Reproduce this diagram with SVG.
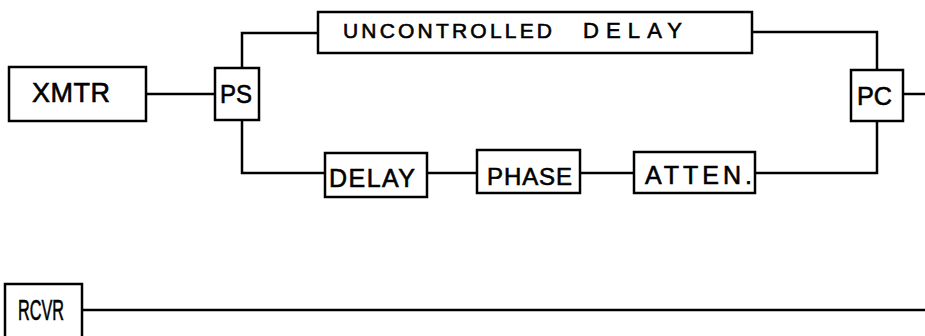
<svg xmlns="http://www.w3.org/2000/svg" width="925" height="336" viewBox="0 0 925 336">
<style>
rect{fill:#fff;stroke:#000;stroke-width:2.5}
.c{fill:none;stroke:#000;stroke-width:2.5}
text{font-family:"Liberation Sans",Arial,sans-serif;fill:#000;stroke:#000;stroke-width:0.6}
</style>
<rect width="925" height="336" style="stroke:none"/>
<g id="connectors">
<path class="c" d="M146 94H215"/>
<path class="c" d="M242 68V33H318"/>
<path class="c" d="M752 32H877V70"/>
<path class="c" d="M903 94H925"/>
<path class="c" d="M877 121V173H755"/>
<path class="c" d="M634 173H580"/>
<path class="c" d="M477 173H427"/>
<path class="c" d="M325 173H242V120"/>
<path class="c" d="M82 310H925"/>
</g>
<g id="xmtr"><rect x="9" y="67" width="137" height="54"/><text x="32" y="102" font-size="27" textLength="78" lengthAdjust="spacing">XMTR</text></g>
<g id="ps"><rect x="215" y="68" width="44" height="52"/><text x="220" y="103" font-size="25" textLength="32" lengthAdjust="spacingAndGlyphs">PS</text></g>
<g id="uncontrolled"><rect x="318" y="12" width="434" height="41"/><text x="343" y="38" font-size="21" textLength="209" lengthAdjust="spacing">UNCONTROLLED</text><text x="583" y="38" font-size="22" textLength="99" lengthAdjust="spacing">DELAY</text></g>
<g id="pc"><rect x="851" y="70" width="52" height="51"/><text x="857" y="105" font-size="25" textLength="35" lengthAdjust="spacingAndGlyphs">PC</text></g>
<g id="delay"><rect x="325" y="153" width="102" height="44"/><text x="329" y="187" font-size="25" textLength="86" lengthAdjust="spacing">DELAY</text></g>
<g id="phase"><rect x="477" y="150" width="103" height="43"/><text x="487" y="185" font-size="24" textLength="85" lengthAdjust="spacing">PHASE</text></g>
<g id="atten"><rect x="634" y="152" width="121" height="41"/><text x="645" y="184" font-size="25" textLength="107" lengthAdjust="spacing">ATTEN.</text></g>
<g id="rcvr"><rect x="5" y="284" width="77" height="60"/><text x="18" y="320" font-size="29" textLength="46" lengthAdjust="spacingAndGlyphs">RCVR</text></g>
</svg>
